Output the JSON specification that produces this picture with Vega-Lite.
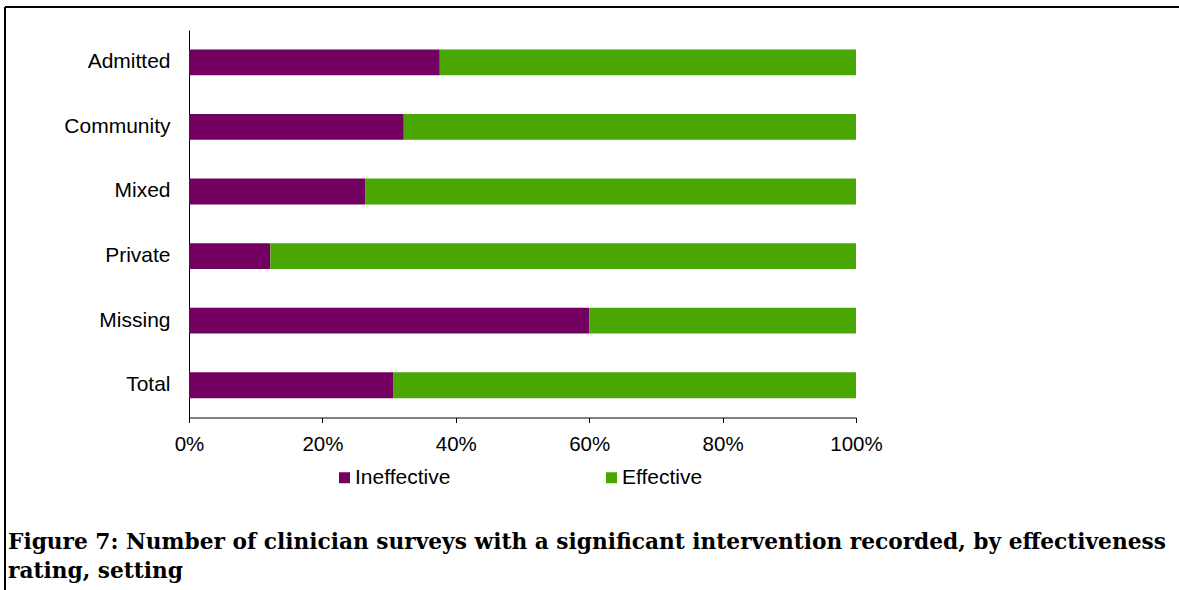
{
  "$schema": "https://vega.github.io/schema/vega-lite/v6.json",
  "autosize": {"type": "none"},
  "padding": {"left": 5, "top": 7, "right": 0, "bottom": 0},
  "width": 1174,
  "height": 583,
  "background": "white",
  "view": {
    "stroke": "black",
    "strokeWidth": 2,
    "strokeDash": [1174, 1757, 583, 0],
    "fill": "white"
  },
  "title": {
    "text": [
      "Figure 7: Number of clinician surveys with a significant intervention recorded, by effectiveness",
      "rating, setting"
    ],
    "orient": "bottom",
    "anchor": "start",
    "frame": "group",
    "offset": -58,
    "dx": 3,
    "font": "DejaVu Serif",
    "fontSize": 21.7,
    "fontWeight": "bold",
    "color": "black",
    "lineHeight": 29
  },
  "data": {
    "values": [
      {"setting": "Admitted", "rating": "Ineffective", "share": 0.376, "rank": 1},
      {"setting": "Admitted", "rating": "Effective", "share": 0.624, "rank": 2},
      {"setting": "Community", "rating": "Ineffective", "share": 0.322, "rank": 1},
      {"setting": "Community", "rating": "Effective", "share": 0.678, "rank": 2},
      {"setting": "Mixed", "rating": "Ineffective", "share": 0.264, "rank": 1},
      {"setting": "Mixed", "rating": "Effective", "share": 0.736, "rank": 2},
      {"setting": "Private", "rating": "Ineffective", "share": 0.122, "rank": 1},
      {"setting": "Private", "rating": "Effective", "share": 0.878, "rank": 2},
      {"setting": "Missing", "rating": "Ineffective", "share": 0.600, "rank": 1},
      {"setting": "Missing", "rating": "Effective", "share": 0.400, "rank": 2},
      {"setting": "Total", "rating": "Ineffective", "share": 0.306, "rank": 1},
      {"setting": "Total", "rating": "Effective", "share": 0.694, "rank": 2}
    ]
  },
  "mark": {"type": "bar", "stroke": null},
  "encoding": {
    "y": {
      "field": "setting",
      "type": "nominal",
      "sort": ["Admitted", "Community", "Mixed", "Private", "Missing", "Total"],
      "scale": {"range": [23, 410.5], "paddingInner": 0.6, "paddingOuter": 0.3},
      "axis": {
        "title": null,
        "orient": "left",
        "offset": -184,
        "domain": true,
        "domainColor": "black",
        "domainWidth": 1,
        "ticks": false,
        "labelPadding": 19,
        "labelFont": "Liberation Sans",
        "labelFontSize": 21,
        "labelColor": "black",
        "grid": false
      }
    },
    "x": {
      "field": "share",
      "type": "quantitative",
      "stack": "zero",
      "scale": {"domain": [0, 1], "range": [184, 851], "nice": false},
      "axis": {
        "title": null,
        "orient": "bottom",
        "offset": -172.5,
        "values": [0, 0.2, 0.4, 0.6, 0.8, 1],
        "format": ".0%",
        "domain": true,
        "domainColor": "black",
        "domainWidth": 1,
        "ticks": true,
        "tickSize": 5,
        "tickColor": "black",
        "tickWidth": 1,
        "labelPadding": 12,
        "labelFlush": false,
        "labelOverlap": false,
        "labelFont": "Liberation Sans",
        "labelFontSize": 20.5,
        "labelColor": "black",
        "grid": false
      }
    },
    "color": {
      "field": "rating",
      "type": "nominal",
      "scale": {"domain": ["Ineffective", "Effective"], "range": ["#730060", "#4aa600"]},
      "legend": {
        "title": null,
        "orient": "none",
        "legendX": 329,
        "legendY": 460,
        "direction": "horizontal",
        "columns": 2,
        "columnPadding": 150,
        "symbolType": "square",
        "symbolSize": 121,
        "symbolStrokeWidth": 0,
        "labelOffset": 0,
        "labelFont": "Liberation Sans",
        "labelFontSize": 21,
        "labelColor": "black",
        "labelLimit": 0
      }
    },
    "order": {"field": "rank", "type": "quantitative"}
  }
}
